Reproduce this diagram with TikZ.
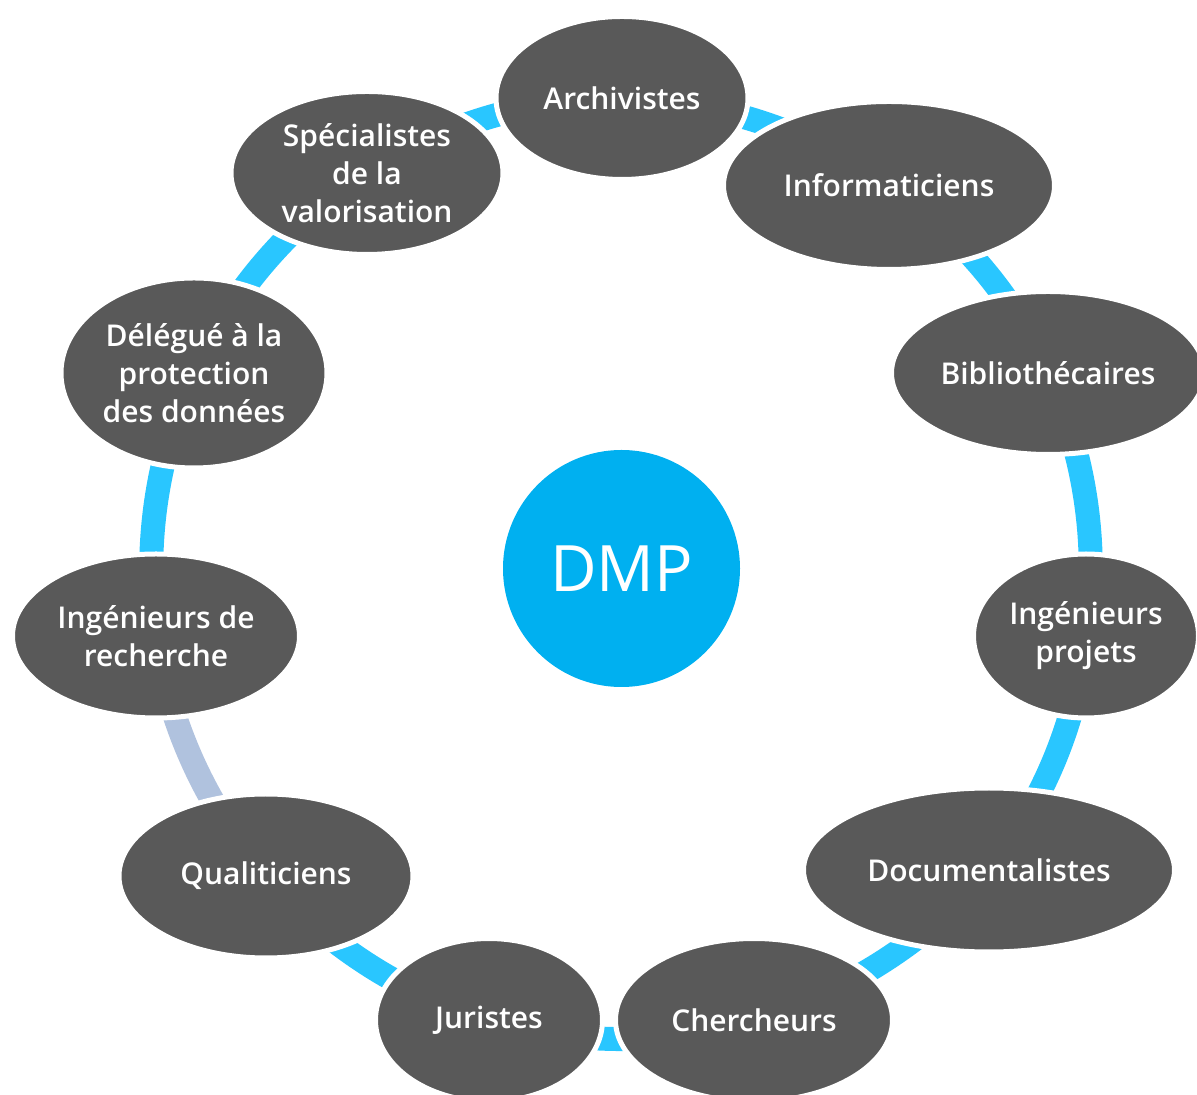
\documentclass[tikz,border=0pt]{standalone}
\usepackage{fontspec}
\setmainfont{Open Sans}[BoldFont={Open Sans Semibold}]
\usetikzlibrary{shapes.geometric,backgrounds}
\definecolor{roleGray}{RGB}{89,89,89}
\definecolor{ringBlue}{RGB}{41,198,255}
\definecolor{ringGrey}{RGB}{176,194,222}
\definecolor{dmpBlue}{RGB}{0,176,240}
\begin{document}
\begin{tikzpicture}[x=0.5pt,y=0.5pt,
    role/.style={ellipse, fill=roleGray, draw=white, line width=2.5pt, text=white, align=center, inner sep=0pt, font=\bfseries\fontsize{15}{19}\selectfont},
    ring/.style={draw=ringBlue, line width=12pt, bend left=16.4, looseness=0.87},
    ringpale/.style={ring, draw=ringGrey}]
                \useasboundingbox (-621.5,-526.5) rectangle (575.5,568.5);

                \node[circle, fill=dmpBlue, minimum size=118.5pt, inner sep=0pt, text=white, font=\fontsize{32}{38}\selectfont] (dmp) at (0,0) {DMP};

                \node[role, minimum width=126pt, minimum height=81.5pt] (archi) at (0.5,470.5) {Archivistes};
                \node[role, minimum width=165.5pt, minimum height=84pt] (info) at (267.5,383) {Informaticiens};
                \node[role, minimum width=156.5pt, minimum height=81.5pt] (biblio) at (426.5,195.5) {Bibliothécaires};
                \node[role, minimum width=112.5pt, minimum height=82pt] (ingproj) at (464.5,-67.5) {Ingénieurs\\projets};
                \node[role, minimum width=185.5pt, minimum height=82pt] (docu) at (367.5,-301.5) {Documentalistes};
                \node[role, minimum width=138.5pt, minimum height=81.5pt] (cherch) at (132.5,-451.5) {Chercheurs};
                \node[role, minimum width=113.5pt, minimum height=81.5pt] (jur) at (-132.5,-451.5) {Juristes};
                \node[role, minimum width=147pt, minimum height=82pt] (quali) at (-355.5,-307.5) {Qualiticiens};
                \node[role, minimum width=143.5pt, minimum height=82pt] (ingrech) at (-465.5,-67.5) {Ingénieurs de\\recherche};
                \node[role, minimum width=133pt, minimum height=95pt] (dpo) at (-427.5,195.5) {Délégué à la\\protection\\des données};
                \node[role, minimum width=136pt, minimum height=81.5pt] (valo) at (-254.5,395.5) {Spécialistes\\de la\\valorisation};

                \begin{scope}[on background layer]
                \draw[ring] (archi.center) to (info.center);
                \draw[ring] (info.center) to (biblio.center);
                \draw[ring] (biblio.center) to (ingproj.center);
                \draw[ring] (ingproj.center) to (docu.center);
                \draw[ring] (docu.center) to (cherch.center);
                \draw[ring] (cherch.center) to (jur.center);
                \draw[ring] (jur.center) to (quali.center);
                \draw[ringpale] (quali.center) to (ingrech.center);
                \draw[ring] (ingrech.center) to (dpo.center);
                \draw[ring] (dpo.center) to (valo.center);
                \draw[ring] (valo.center) to (archi.center);
                \end{scope}
            \end{tikzpicture}
\end{document}
